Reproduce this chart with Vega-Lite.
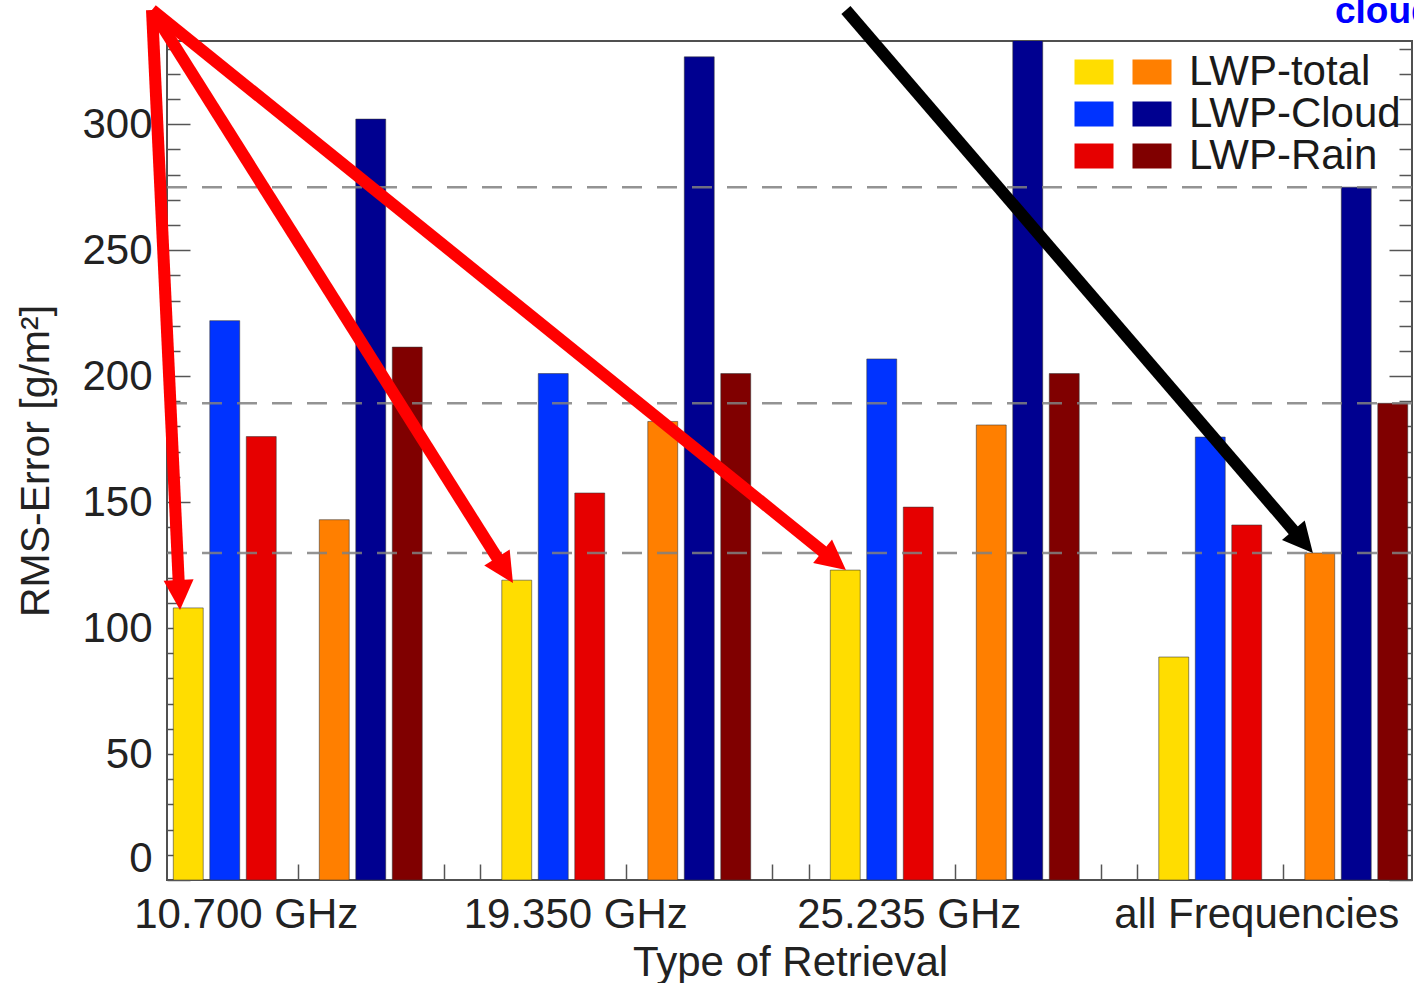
{
  "$schema": "https://vega.github.io/schema/vega-lite/v6.json",
  "width": 1245,
  "height": 839,
  "autosize": {"type": "none"},
  "padding": {"left": 167, "top": 41, "right": 2, "bottom": 103},
  "background": "white",
  "config": {
    "font": "Liberation Sans",
    "view": {"stroke": "#505050", "strokeWidth": 2}
  },
  "datasets": {
    "rms": [
      {"frequency": "10.700 GHz", "series": "LWP-total (a)", "rms": 108},
      {"frequency": "10.700 GHz", "series": "LWP-Cloud (a)", "rms": 222},
      {"frequency": "10.700 GHz", "series": "LWP-Rain (a)", "rms": 176},
      {"frequency": "10.700 GHz", "series": "LWP-total (b)", "rms": 143},
      {"frequency": "10.700 GHz", "series": "LWP-Cloud (b)", "rms": 302},
      {"frequency": "10.700 GHz", "series": "LWP-Rain (b)", "rms": 211.5},
      {"frequency": "19.350 GHz", "series": "LWP-total (a)", "rms": 119},
      {"frequency": "19.350 GHz", "series": "LWP-Cloud (a)", "rms": 201},
      {"frequency": "19.350 GHz", "series": "LWP-Rain (a)", "rms": 153.6},
      {"frequency": "19.350 GHz", "series": "LWP-total (b)", "rms": 182},
      {"frequency": "19.350 GHz", "series": "LWP-Cloud (b)", "rms": 326.7},
      {"frequency": "19.350 GHz", "series": "LWP-Rain (b)", "rms": 201},
      {"frequency": "25.235 GHz", "series": "LWP-total (a)", "rms": 123},
      {"frequency": "25.235 GHz", "series": "LWP-Cloud (a)", "rms": 206.8},
      {"frequency": "25.235 GHz", "series": "LWP-Rain (a)", "rms": 148},
      {"frequency": "25.235 GHz", "series": "LWP-total (b)", "rms": 180.6},
      {"frequency": "25.235 GHz", "series": "LWP-Cloud (b)", "rms": 345},
      {"frequency": "25.235 GHz", "series": "LWP-Rain (b)", "rms": 201},
      {"frequency": "all Frequencies", "series": "LWP-total (a)", "rms": 88.5},
      {"frequency": "all Frequencies", "series": "LWP-Cloud (a)", "rms": 175.8},
      {"frequency": "all Frequencies", "series": "LWP-Rain (a)", "rms": 140.9},
      {"frequency": "all Frequencies", "series": "LWP-total (b)", "rms": 129.8},
      {"frequency": "all Frequencies", "series": "LWP-Cloud (b)", "rms": 275},
      {"frequency": "all Frequencies", "series": "LWP-Rain (b)", "rms": 189.2}
    ],
    "arrows": [
      {"arrow": "a1", "target": "10.700 GHz LWP-total (a)", "tail_slot": -0.993, "tail_rms": 345.3, "base_slot": -0.261, "base_rms": 118.3, "tip_slot": -0.226, "tip_rms": 107.2},
      {"arrow": "a2", "target": "19.350 GHz LWP-total (a)", "tail_slot": -0.993, "tail_rms": 345.3, "base_slot": 8.489, "base_rms": 127.3, "tip_slot": 8.897, "tip_rms": 117.9},
      {"arrow": "a3", "target": "25.235 GHz LWP-total (a)", "tail_slot": -0.993, "tail_rms": 345.3, "base_slot": 17.423, "base_rms": 130.0, "tip_slot": 18.02, "tip_rms": 123.0},
      {"arrow": "a4", "target": "all Frequencies LWP-total (b)", "tail_slot": 18.02, "tail_rms": 345.3, "base_slot": 30.314, "base_rms": 138.2, "tip_slot": 30.815, "tip_rms": 129.8}
    ],
    "notes": [
      {"note": "cloud", "slot": 31.42, "rms": 340.1}
    ]
  },
  "layer": [
    {
      "data": {"name": "rms"},
      "mark": {"type": "bar", "clip": true, "stroke": "#333333", "strokeWidth": 1, "strokeOpacity": 0.55},
      "encoding": {
        "x": {
          "field": "frequency", "type": "nominal",
          "scale": {"domain": ["10.700 GHz", "19.350 GHz", "25.235 GHz", "all Frequencies"], "range": [3, 1317], "paddingInner": 0, "paddingOuter": 0},
          "axis": {
            "orient": "bottom", "ticks": false, "domain": false, "grid": false,
            "labelAngle": 0, "labelFontSize": 42, "labelColor": "#222222", "labelPadding": 14, "labelLimit": 0,
            "labelOffset": {"condition": [
              {"test": "datum.label === '10.700 GHz'", "value": -88},
              {"test": "datum.label === '19.350 GHz'", "value": -87},
              {"test": "datum.label === '25.235 GHz'", "value": -82}
            ], "value": -63},
            "title": "Type of Retrieval", "titleFontSize": 42, "titleFontWeight": "normal", "titleColor": "#222222", "titlePadding": 7,
            "titleX": 623, "titleAlign": "center", "titleAnchor": "start"
          }
        },
        "xOffset": {
          "field": "series", "type": "nominal",
          "scale": {"domain": ["LWP-total (a)", "LWP-Cloud (a)", "LWP-Rain (a)", "gap 1", "LWP-total (b)", "LWP-Cloud (b)", "LWP-Rain (b)", "gap 2", "gap 3"], "paddingInner": 0.18, "paddingOuter": 0.09}
        },
        "y": {
          "field": "rms", "type": "quantitative",
          "scale": {"domain": [0, 333], "nice": false, "zero": true},
          "axis": {
            "orient": "left", "domain": false, "grid": false,
            "values": [0, 10, 20, 30, 40, 50, 60, 70, 80, 90, 100, 110, 120, 130, 140, 150, 160, 170, 180, 190, 200, 210, 220, 230, 240, 250, 260, 270, 280, 290, 300, 310, 320, 330],
            "labelExpr": "datum.value % 50 === 0 ? datum.label : ''",
            "tickSize": {"condition": {"test": "datum.value % 50 === 0", "value": -23}, "value": -13},
            "tickColor": "#555555", "tickWidth": 1.5,
            "labelFontSize": 42, "labelColor": "#222222", "labelPadding": 38,
            "labelBaseline": {"condition": {"test": "datum.value === 0", "value": "bottom"}, "value": "middle"},
            "title": "RMS-Error [g/m²]", "titleFontSize": 41, "titleFontWeight": "normal", "titleColor": "#222222", "titlePadding": 24
          }
        },
        "color": {
          "field": "series", "type": "nominal",
          "scale": {
            "domain": ["LWP-total (a)", "LWP-Cloud (a)", "LWP-Rain (a)", "LWP-total (b)", "LWP-Cloud (b)", "LWP-Rain (b)"],
            "range": ["#FFDD00", "#0033FF", "#E60000", "#FF7F00", "#000090", "#800000"]
          },
          "legend": {
            "orient": "none", "legendX": 906, "legendY": 10, "title": null,
            "columns": 2, "columnPadding": -3, "rowPadding": 0, "padding": 0,
            "symbolType": "M-1,-0.64H1V0.64H-1Z", "symbolSize": 1521, "symbolStrokeWidth": 0, "symbolOpacity": 1,
            "labelFontSize": 42, "labelColor": "#1a1a1a", "labelOffset": 16, "labelLimit": 0,
            "labelExpr": "indexof(datum.label, '(b)') > 0 ? replace(datum.label, ' (b)', '') : ''"
          }
        }
      }
    },
    {
      "data": {"name": "rms"},
      "transform": [{"filter": "datum.frequency === 'all Frequencies' && indexof(datum.series, '(b)') > 0"}],
      "mark": {"type": "rule", "color": "#808080", "strokeWidth": 2.5, "strokeDash": [20, 15], "opacity": 0.85},
      "encoding": {
        "y": {
          "field": "rms", "type": "quantitative",
          "scale": {"domain": [0, 333], "nice": false, "zero": true},
          "axis": {
            "orient": "right", "domain": false, "grid": false, "labels": false, "title": null,
            "values": [0, 10, 20, 30, 40, 50, 60, 70, 80, 90, 100, 110, 120, 130, 140, 150, 160, 170, 180, 190, 200, 210, 220, 230, 240, 250, 260, 270, 280, 290, 300, 310, 320, 330],
            "tickSize": {"condition": {"test": "datum.value % 50 === 0", "value": -23}, "value": -13},
            "tickColor": "#555555", "tickWidth": 1.5
          }
        }
      }
    },
    {
      "layer": [
        {
          "data": {"name": "arrows"},
          "mark": {"type": "rule", "strokeWidth": 12, "strokeCap": "butt"},
          "encoding": {
            "x": {"field": "tail_slot", "type": "quantitative", "scale": {"domain": [-0.582, 33.53], "nice": false, "zero": false},
              "axis": {"orient": "bottom", "labels": false, "domain": false, "grid": false, "title": null, "tickSize": -16, "tickColor": "#555555", "tickWidth": 1.5,
                "values": [0, 1, 2, 3, 4, 5, 6, 7, 8, 9, 10, 11, 12, 13, 14, 15, 16, 17, 18, 19, 20, 21, 22, 23, 24, 25, 26, 27, 28, 29, 30, 31, 32, 33]}},
            "x2": {"field": "base_slot"},
            "y": {"field": "tail_rms", "type": "quantitative", "scale": {"domain": [0, 333], "nice": false, "zero": true}, "axis": null},
            "y2": {"field": "base_rms"},
            "color": {"condition": {"test": "datum.arrow === 'a4'", "value": "#000000"}, "value": "#FF0000"}
          }
        },
        {
          "data": {"name": "arrows"},
          "mark": {"type": "point", "shape": "M0,0L-1,-2L1,-2Z", "size": 900, "filled": true, "opacity": 1, "strokeWidth": 0},
          "encoding": {
            "x": {"field": "tip_slot", "type": "quantitative", "scale": {"domain": [-0.582, 33.53], "nice": false, "zero": false},
              "axis": {"orient": "bottom", "labels": false, "domain": false, "grid": false, "title": null, "tickSize": -16, "tickColor": "#555555", "tickWidth": 1.5,
                "values": [0, 1, 2, 3, 4, 5, 6, 7, 8, 9, 10, 11, 12, 13, 14, 15, 16, 17, 18, 19, 20, 21, 22, 23, 24, 25, 26, 27, 28, 29, 30, 31, 32, 33]}},
            "y": {"field": "tip_rms", "type": "quantitative", "scale": {"domain": [0, 333], "nice": false, "zero": true}, "axis": null},
            "color": {"condition": {"test": "datum.arrow === 'a4'", "value": "#000000"}, "value": "#FF0000"},
            "angle": {"condition": [
              {"test": "datum.arrow === 'a1'", "value": -2.7},
              {"test": "datum.arrow === 'a2'", "value": -32.2},
              {"test": "datum.arrow === 'a3'", "value": -51.1}
            ], "value": -40.7}
          }
        },
        {
          "data": {"name": "notes"},
          "mark": {"type": "text", "align": "left", "baseline": "alphabetic", "fontSize": 37, "fontWeight": "bold", "color": "#0000FF"},
          "encoding": {
            "x": {"field": "slot", "type": "quantitative", "scale": {"domain": [-0.582, 33.53], "nice": false, "zero": false},
              "axis": {"orient": "bottom", "labels": false, "domain": false, "grid": false, "title": null, "tickSize": -16, "tickColor": "#555555", "tickWidth": 1.5,
                "values": [0, 1, 2, 3, 4, 5, 6, 7, 8, 9, 10, 11, 12, 13, 14, 15, 16, 17, 18, 19, 20, 21, 22, 23, 24, 25, 26, 27, 28, 29, 30, 31, 32, 33]}},
            "y": {"field": "rms", "type": "quantitative", "scale": {"domain": [0, 333], "nice": false, "zero": true}, "axis": null},
            "text": {"field": "note"}
          }
        }
      ]
    }
  ],
  "resolve": {"scale": {"x": "independent"}, "axis": {"x": "independent", "y": "independent"}}
}
